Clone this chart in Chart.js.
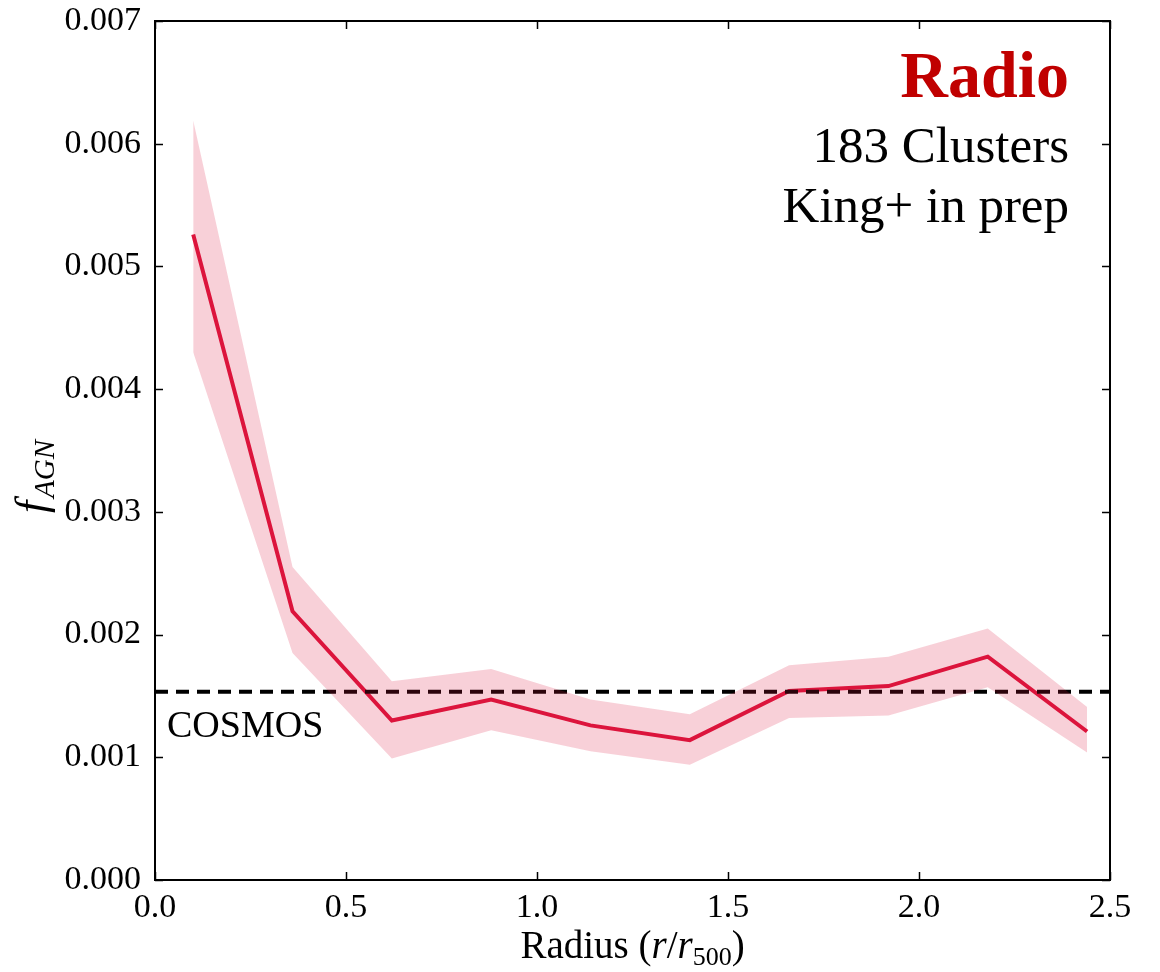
<!DOCTYPE html>
<html>
<head>
<meta charset="utf-8">
<script src="https://cdn.jsdelivr.net/npm/chart.js@4/dist/chart.umd.min.js"></script>
<style>
  html, body { margin: 0; padding: 0; background: #fff; }
  #wrap { width: 1160px; height: 972px; }
</style>
</head>
<body>
<div id="wrap"><canvas id="chart" width="1160" height="972"></canvas></div>
<script>
// values
const radius = [0.10, 0.36, 0.62, 0.88, 1.14, 1.40, 1.66, 1.92, 2.18, 2.44]
const fAgn   = [0.00526, 0.00219, 0.00130, 0.00147, 0.00126, 0.00114, 0.00154, 0.00158, 0.00182, 0.00121]
const upper  = [0.00619, 0.00255, 0.00162, 0.00172, 0.00147, 0.00135, 0.00175, 0.00182, 0.00205, 0.00141]
const lower  = [0.00430, 0.00185, 0.00099, 0.00122, 0.00105, 0.00094, 0.00132, 0.00134, 0.00157, 0.00104]
const cosmosLevel = 0.001535
const cosmosRange = [0, 2.5]
const xTicks = [0.0, 0.5, 1.0, 1.5, 2.0, 2.5]
const yTicks = [0.000, 0.001, 0.002, 0.003, 0.004, 0.005, 0.006, 0.007]
const labelLines = ["Radio", "183 Clusters", "King+ in prep"]

const SERIF = '"Liberation Serif", "DejaVu Serif", serif'

function pts(xs, ys) {
    return xs.map((x, i) => ({ x: x, y: ys[i] }))
}

// frame, inward ticks on all four sides, and the annotation text
const decorations = {
    id: 'decorations',
    afterDraw(chart) {
        const ctx = chart.ctx
        const a = chart.chartArea
        const xs = chart.scales.x
        const ys = chart.scales.y
        ctx.save()
        ctx.strokeStyle = '#000'
        ctx.lineWidth = 1.5
        const tl = 8
        xTicks.forEach(v => {
            const px = Math.round(xs.getPixelForValue(v)) + 0.5
            ctx.beginPath()
            ctx.moveTo(px, a.bottom); ctx.lineTo(px, a.bottom - tl)
            ctx.moveTo(px, a.top); ctx.lineTo(px, a.top + tl)
            ctx.stroke()
        })
        yTicks.forEach(v => {
            const py = Math.round(ys.getPixelForValue(v)) + 0.5
            ctx.beginPath()
            ctx.moveTo(a.left, py); ctx.lineTo(a.left + tl, py)
            ctx.moveTo(a.right, py); ctx.lineTo(a.right - tl, py)
            ctx.stroke()
        })
        ctx.lineWidth = 2
        ctx.strokeRect(a.left, a.top, a.right - a.left, a.bottom - a.top)

        // top-right label
        ctx.textAlign = 'right'
        ctx.textBaseline = 'alphabetic'
        ctx.fillStyle = '#c00000'
        ctx.font = 'bold 66px ' + SERIF
        ctx.fillText(labelLines[0], a.right - 41, 97)
        ctx.fillStyle = '#000'
        ctx.font = '51px ' + SERIF
        ctx.fillText(labelLines[1], a.right - 41, 162)
        ctx.fillText(labelLines[2], a.right - 41, 222)

        // COSMOS label
        ctx.textAlign = 'left'
        ctx.font = '38px ' + SERIF
        ctx.fillText('COSMOS', a.left + 12, 737)

        // x axis title: Radius (r/r_500)
        const big = '39px ' + SERIF
        const bigI = 'italic 39px ' + SERIF
        const sub = '26px ' + SERIF
        const partsX = [
            ['Radius (', big, 0], ['r', bigI, 0], ['/', big, 0],
            ['r', bigI, 0], ['500', sub, 7], [')', big, 0]
        ]
        let w = 0
        partsX.forEach(p => { ctx.font = p[1]; w += ctx.measureText(p[0]).width })
        let cx = (a.left + a.right) / 2 - w / 2
        partsX.forEach(p => {
            ctx.font = p[1]
            ctx.fillText(p[0], cx, 958 + p[2])
            cx += ctx.measureText(p[0]).width
        })

        // y axis title: f_AGN
        ctx.translate(46, 478)
        ctx.rotate(-Math.PI / 2)
        const partsY = [['f', 'italic 44px ' + SERIF, 0], ['AGN', 'italic 29px ' + SERIF, 8]]
        w = 0
        partsY.forEach(p => { ctx.font = p[1]; w += ctx.measureText(p[0]).width })
        cx = -w / 2
        partsY.forEach(p => {
            ctx.font = p[1]
            ctx.fillText(p[0], cx, 0 + p[2])
            cx += ctx.measureText(p[0]).width + 3
        })
        ctx.restore()
    }
}

new Chart('chart', {
    type: 'line',
    data: {
        datasets: [
            {
                data: pts(radius, upper),
                borderWidth: 0,
                pointRadius: 0,
                backgroundColor: 'rgba(220,20,60,0.2)',
                fill: '+1'
            },
            {
                data: pts(radius, lower),
                borderWidth: 0,
                pointRadius: 0,
                fill: false
            },
            {
                data: pts(cosmosRange, [cosmosLevel, cosmosLevel]),
                borderColor: '#000',
                borderWidth: 4,
                borderDash: [13, 8],
                pointRadius: 0,
                fill: false
            },
            {
                data: pts(radius, fAgn),
                borderColor: '#dc143c',
                borderWidth: 4,
                pointRadius: 0,
                lineTension: 0,
                fill: false
            }
        ]
    },
    options: {
        responsive: false,
        animation: false,
        layout: { padding: { top: 21, right: 50, left: 0, bottom: 0 } },
        plugins: {
            legend: { display: false },
            tooltip: { enabled: false }
        },
        scales: {
            x: {
                type: 'linear',
                min: 0, max: 2.5,
                afterBuildTicks: s => { s.ticks = xTicks.map(v => ({ value: v })) },
                afterFit: s => { s.height = 92; s.paddingLeft = 0; s.paddingRight = 0 },
                grid: { display: false },
                border: { display: false },
                ticks: {
                    color: '#000',
                    font: { family: SERIF, size: 34 },
                    padding: 0,
                    callback: v => v.toFixed(1)
                }
            },
            y: {
                min: 0, max: 0.007,
                afterBuildTicks: s => { s.ticks = yTicks.map(v => ({ value: v })) },
                afterFit: s => { s.width = 155; s.paddingTop = 0; s.paddingBottom = 0 },
                grid: { display: false },
                border: { display: false },
                ticks: {
                    color: '#000',
                    font: { family: SERIF, size: 34 },
                    padding: 6,
                    callback: v => v.toFixed(3)
                }
            }
        }
    },
    plugins: [decorations]
})
</script>
</body>
</html>
